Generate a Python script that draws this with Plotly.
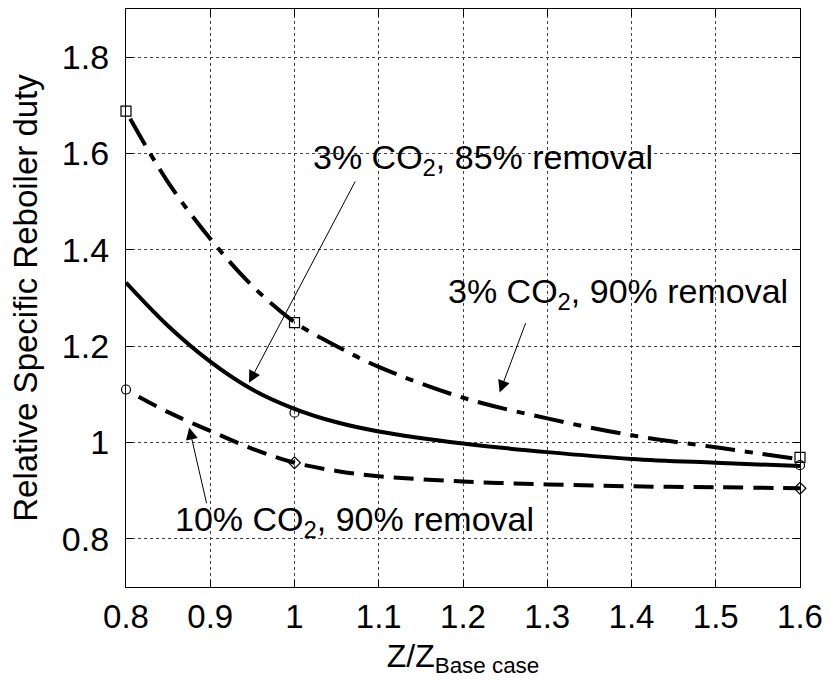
import plotly.graph_objects as go

# Smooth fitted curves
x_curve = [0.805, 0.85, 0.9, 0.95, 1.0, 1.05, 1.1, 1.2, 1.3, 1.4, 1.5, 1.6]
y_3co2_90 = [1.672, 1.54, 1.423, 1.325, 1.25, 1.20, 1.157, 1.093, 1.05, 1.015, 0.99, 0.965]
x_solid = [0.8, 0.85, 0.9, 0.95, 1.0, 1.05, 1.1, 1.2, 1.3, 1.4, 1.5, 1.6]
y_3co2_85 = [1.332, 1.242, 1.168, 1.110, 1.070, 1.042, 1.023, 0.998, 0.980, 0.966, 0.958, 0.951]
x_dash = [0.815, 0.85, 0.9, 0.95, 1.0, 1.05, 1.1, 1.2, 1.3, 1.4, 1.5, 1.6]
y_10co2_90 = [1.095, 1.063, 1.024, 0.987, 0.958, 0.941, 0.930, 0.919, 0.913, 0.909, 0.907, 0.905]

# Data points (markers)
x_pts = [0.8, 1.0, 1.6]
pts_3co2_90 = [1.688, 1.249, 0.969]
x_pts_85 = [1.0, 1.6]
pts_3co2_85 = [1.062, 0.953]
pts_10co2_90 = [1.11, 0.958, 0.905]
sym_10co2_90 = ["circle-open", "diamond-open", "diamond-open"]

x_ticks = [0.8, 0.9, 1.0, 1.1, 1.2, 1.3, 1.4, 1.5, 1.6]
x_ticktext = ["0.8", "0.9", "1", "1.1", "1.2", "1.3", "1.4", "1.5", "1.6"]
y_ticks = [0.8, 1.0, 1.2, 1.4, 1.6, 1.8]
y_ticktext = ["0.8", "1", "1.2", "1.4", "1.6", "1.8"]

FONT = "Liberation Sans, Arial, sans-serif"

fig = go.Figure()
fig.add_trace(go.Scatter(x=x_curve, y=y_3co2_90, mode="lines", line_shape="spline",
                         line=dict(color="black", width=4, dash="30px,10px,8px,10px"),
                         showlegend=False))
fig.add_trace(go.Scatter(x=x_solid, y=y_3co2_85, mode="lines", line_shape="spline",
                         line=dict(color="black", width=4), showlegend=False))
fig.add_trace(go.Scatter(x=x_dash, y=y_10co2_90, mode="lines", line_shape="spline",
                         line=dict(color="black", width=4, dash="20px,10px"), showlegend=False))
fig.add_trace(go.Scatter(x=x_pts, y=pts_3co2_90, mode="markers",
                         marker=dict(symbol="square-open", size=10, color="black", line=dict(width=1.2)),
                         showlegend=False, cliponaxis=False))
fig.add_trace(go.Scatter(x=x_pts_85, y=pts_3co2_85, mode="markers",
                         marker=dict(symbol="circle-open", size=9, color="black", line=dict(width=1.2)),
                         showlegend=False, cliponaxis=False))
fig.add_trace(go.Scatter(x=x_pts, y=pts_10co2_90, mode="markers",
                         marker=dict(symbol=sym_10co2_90, size=9, color="black", line=dict(width=1.2)),
                         showlegend=False, cliponaxis=False))

ann_font = dict(family=FONT, size=34, color="black")
labels = [
    ("3% CO<sub>2</sub>, 85% removal", 1.2235, 1.587, 1.073, 1.545, 0.946, 1.124),
    ("3% CO<sub>2</sub>, 90% removal", 1.3835, 1.309, 1.275, 1.251, 1.2435, 1.104),
    ("10% CO<sub>2</sub>, 90% removal", 1.0718, 0.836, 0.896, 0.871, 0.875, 1.031),
]
for text, tx, ty, ax, ay, hx, hy in labels:
    fig.add_annotation(x=tx, y=ty, xref="x", yref="y", text=text, showarrow=False,
                       font=ann_font, xanchor="center", yanchor="middle", bgcolor="rgba(0,0,0,0)")
    fig.add_annotation(x=hx, y=hy, xref="x", yref="y", ax=ax, ay=ay, axref="x", ayref="y",
                       text="", showarrow=True, arrowhead=2, arrowsize=2.4, arrowwidth=1,
                       arrowcolor="black")

axis_common = dict(showline=True, linecolor="black", linewidth=1.2, mirror="ticks",
                   ticks="inside", ticklen=7, tickcolor="black", tickwidth=1,
                   showgrid=True, gridcolor="#444", gridwidth=1, griddash="dot",
                   zeroline=False)

fig.update_xaxes(range=[0.8, 1.6], tickvals=x_ticks, ticktext=x_ticktext,
                 tickfont=dict(family=FONT, size=33, color="black"),
                 title=dict(text="Z/Z<sub>Base case</sub>", font=dict(family=FONT, size=32, color="black"),
                            standoff=10),
                 **axis_common)
fig.update_yaxes(range=[0.7, 1.9], tickvals=y_ticks, ticktext=y_ticktext,
                 tickfont=dict(family=FONT, size=34, color="black"), ticklabelstandoff=9,
                 title=dict(text="Relative Specific Reboiler duty", font=dict(family=FONT, size=33, color="black"),
                            standoff=14),
                 **axis_common)

fig.update_layout(width=831, height=692, margin=dict(l=126, r=25, t=8, b=105),
                  paper_bgcolor="white", plot_bgcolor="white")

fig.write_html("out.html")
